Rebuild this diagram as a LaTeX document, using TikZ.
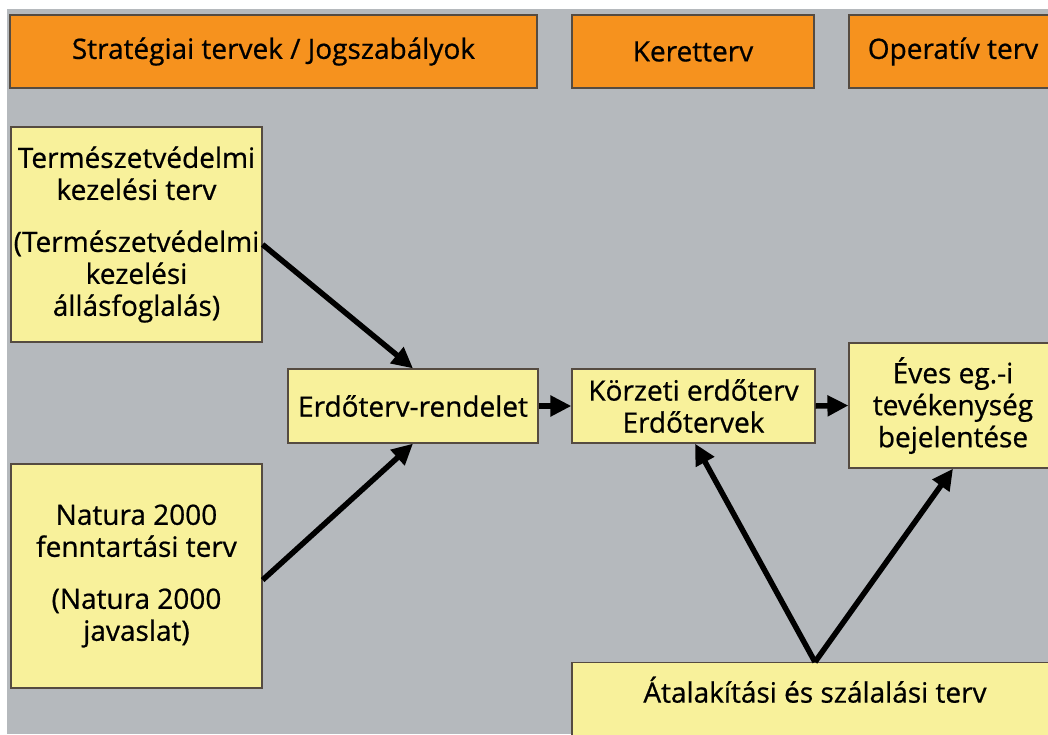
\documentclass[tikz,border=0pt]{standalone}
\usepackage{fontspec}
\setmainfont{Open Sans}[RawFeature={embolden=0.7}]
\usetikzlibrary{arrows.meta}
\definecolor{bggray}{RGB}{181,185,189}
\definecolor{hdrorange}{RGB}{246,146,30}
\definecolor{boxyellow}{RGB}{248,241,155}
\definecolor{boxborder}{RGB}{85,75,65}
\tikzset{
  basebox/.style={draw=boxborder, line width=1.2pt, inner sep=0pt, align=center,
    font=\fontsize{28}{32}\selectfont},
  hdr/.style={basebox, fill=hdrorange},
  ybox/.style={basebox, fill=boxyellow},
  arr/.style={line width=5.5pt, -{Triangle[length=21pt,width=20pt]}},
}
\begin{document}
\begin{tikzpicture}[x=1pt,y=-1pt]
\useasboundingbox (0,0) rectangle (1048,734);
\clip (0,0) rectangle (1048,734);
\fill[white] (0,0) rectangle (1048,734);
\fill[bggray] (7,9) rectangle (1048,734);
% headers
\node[hdr, minimum width=527pt, minimum height=73pt] (h1) at (273.5,51.5) {Stratégiai tervek / Jogszabályok};
\node[hdr, minimum width=242pt, minimum height=73pt] (h2) at (693,51.5) {Keretterv};
\node[hdr, minimum width=208pt, minimum height=73pt] (h3) at (953,51.5) {Operatív terv};
% boxes
\node[ybox, minimum width=251pt, minimum height=215pt] (tv) at (136.5,234.5)
  {Természetvédelmi\\kezelési terv\\[20pt](Természetvédelmi\\kezelési\\állásfoglalás)};
\node[ybox, minimum width=251pt, minimum height=224pt] (na) at (136.5,576)
  {Natura 2000\\fenntartási terv\\[20pt](Natura 2000\\javaslat)};
\node[ybox, minimum width=250pt, minimum height=74pt] (er) at (413,406) {Erdőterv-rendelet};
\node[ybox, minimum width=243pt, minimum height=74pt] (kz) at (693.5,406) {Körzeti erdőterv\\Erdőtervek};
\node[ybox, minimum width=208pt, minimum height=125pt] (ev) at (953,405.5) {Éves eg.-i\\tevékenység\\bejelentése};
\node[ybox, minimum width=486pt, text height=40pt, text depth=70pt, anchor=north] (at) at (815,662) {Átalakítási és szálalási terv};
% arrows
\draw[arr] ([yshift=-10pt]tv.east) -- (er.north);
\draw[arr] ([yshift=-4pt]na.east) -- (er.south);
\draw[arr] (er.east) -- (kz.west);
\draw[arr] (kz.east) -- (ev.west);
\draw[arr] (at.north) -- ([xshift=1.5pt]kz.south);
\draw[arr] (at.north) -- (ev.south);
\end{tikzpicture}
\end{document}
